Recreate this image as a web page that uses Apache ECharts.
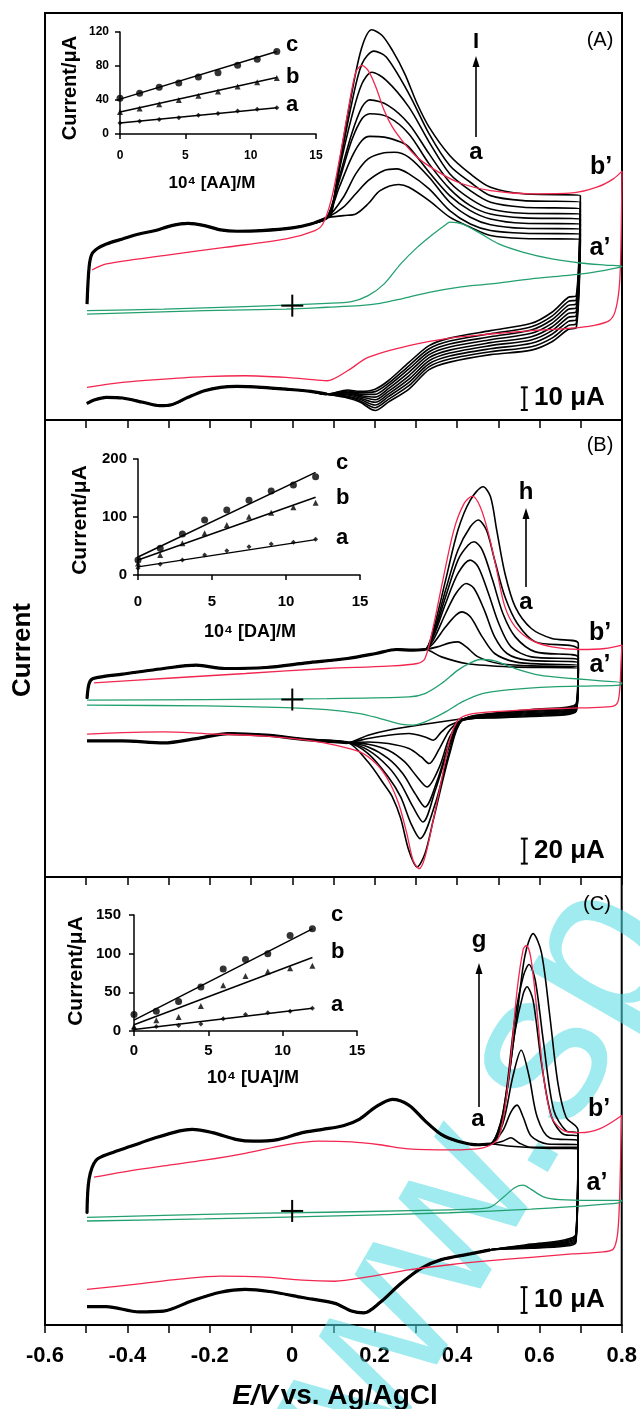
<!DOCTYPE html>
<html>
<head>
<meta charset="utf-8">
<script src="https://cdn.jsdelivr.net/npm/echarts@6/dist/echarts.min.js"></script>
<style>
  html, body { margin: 0; padding: 0; background: #fff; }
  #chart { width: 640px; height: 1409px; }
</style>
</head>
<body>
<div id="chart"></div>
<script>
// ---- panel A: ascorbic acid, curves a..i ([E/V, I/uA]) ----
const A_upShared = [[-0.498,0.7],[-0.493,17],[-0.486,22.8],[-0.471,25.4],[-0.451,27.2],[-0.412,29.4],[-0.372,31.6],[-0.332,33.1],[-0.293,35.3],[-0.253,36.3],[-0.213,35.3],[-0.174,33.4],[-0.134,32.8],[-0.074,33.1],[0,34.3],[0.045,36],[0.084,38.7]];
const A_upper = [
  [[0.124,39.7],[0.154,40.4],[0.184,44.9],[0.213,50.7],[0.258,53.4],[0.283,52.2],[0.332,46.3],[0.382,39],[0.432,34.6],[0.481,30.9],[0.561,29.6],[0.699,29.3]],
  [[0.124,43.4],[0.154,49.3],[0.184,55.1],[0.223,59.6],[0.253,60.3],[0.283,58.1],[0.332,51.5],[0.382,41.9],[0.432,36],[0.481,33.1],[0.561,31.9],[0.699,31.6]],
  [[0.124,47.8],[0.154,58.1],[0.184,64.7],[0.218,67.2],[0.248,67.6],[0.283,65.4],[0.332,56.6],[0.382,45.6],[0.432,39],[0.481,35.7],[0.561,34.1],[0.699,33.8]],
  [[0.114,52.2],[0.144,65.4],[0.169,72.8],[0.188,74.6],[0.223,74.3],[0.263,72.1],[0.283,69.9],[0.332,58.8],[0.382,48.5],[0.432,41.9],[0.481,38.2],[0.561,36.3],[0.699,36]],
  [[0.114,55.1],[0.144,72.8],[0.169,82.4],[0.188,84.6],[0.233,83.1],[0.283,75.7],[0.332,62.5],[0.382,51.5],[0.432,44.1],[0.481,40.4],[0.561,38.7],[0.699,38.2]],
  [[0.114,56.6],[0.144,75.7],[0.169,87.5],[0.188,90.7],[0.233,88.2],[0.283,80.1],[0.332,66.9],[0.382,54.4],[0.432,47.1],[0.481,42.6],[0.561,40.7],[0.699,40.4]],
  [[0.094,39.7],[0.114,59.6],[0.144,83.1],[0.169,97.8],[0.193,102.9],[0.228,99.3],[0.283,87.5],[0.332,72.1],[0.382,58.1],[0.432,50.7],[0.481,45.6],[0.561,43.4],[0.699,42.6]],
  [[0.094,40.4],[0.114,61],[0.144,89],[0.169,106.6],[0.198,112.2],[0.228,109.6],[0.283,93.4],[0.332,75.7],[0.382,61.8],[0.432,54.4],[0.481,48.5],[0.561,46.3],[0.699,45.6]],
  [[0.094,40.4],[0.114,62.5],[0.144,93.4],[0.169,114],[0.193,121.6],[0.218,119.1],[0.243,112.5],[0.273,102.2],[0.303,89],[0.332,78.7],[0.382,66.2],[0.432,58.1],[0.481,52.2],[0.561,49.3],[0.699,48.5]]
];
const A_lowV = [0.689,0.670,0.630,0.580,0.481,0.382,0.332,0.283,0.233,0.201,0.164,0.134];
const A_lowI = [
  [-9.7,-10.4,-15.9,-19.6,-21.6,-24.9,-28.2,-36.8,-42.5,-46.2,-42.5,-40.7],
  [-7.9,-8.7,-14.3,-18.1,-20.3,-23.5,-26.9,-35.3,-41.3,-45.0,-41.9,-40.3],
  [-6.2,-6.9,-12.6,-16.6,-19.0,-22.2,-25.6,-33.8,-40.1,-43.8,-41.3,-39.9],
  [-4.4,-5.1,-11.0,-15.1,-17.6,-20.9,-24.3,-32.4,-39.0,-42.6,-40.7,-39.4],
  [-2.6,-3.4,-9.4,-13.7,-16.3,-19.6,-22.9,-30.9,-37.8,-41.5,-40.1,-39.0],
  [-0.9,-1.6,-7.8,-12.2,-15.0,-18.2,-21.6,-29.4,-36.6,-40.3,-39.6,-38.5],
  [0.9,0.1,-6.2,-10.7,-13.7,-16.9,-20.3,-27.9,-35.4,-39.1,-39.0,-38.1],
  [2.6,1.9,-4.6,-9.3,-12.4,-15.6,-19.0,-26.5,-34.3,-37.9,-38.4,-37.6],
  [4.4,3.7,-2.9,-7.8,-11.0,-14.3,-17.6,-25.0,-33.1,-36.8,-37.8,-37.2]
];
const A_lowShared = [[0.084,-39],[0.045,-37.8],[-0.015,-36.8],[-0.074,-36],[-0.134,-35.6],[-0.174,-36],[-0.213,-37.5],[-0.253,-40.4],[-0.293,-43.7],[-0.322,-44.1],[-0.362,-42.6],[-0.412,-40.7],[-0.451,-40.4],[-0.481,-41.6],[-0.498,-43.1]];
const A_red = [[-0.486,15.7],[-0.451,18.4],[-0.312,22.1],[-0.164,25.7],[-0.015,29.4],[0.055,33.1],[0.074,36],[0.094,46.3],[0.114,64],[0.134,84.6],[0.154,102.9],[0.169,105.9],[0.184,103.7],[0.203,96.3],[0.223,86],[0.243,78.7],[0.273,71.3],[0.303,65.4],[0.342,60.3],[0.402,54.4],[0.481,50.7],[0.58,49.3],[0.68,49.7],[0.739,52.2],[0.779,55.9],[0.8,59.3],[0.798,31.6],[0.794,9.6],[0.784,-2.2],[0.769,-6.6],[0.729,-8.8],[0.68,-9.9],[0.58,-11],[0.481,-12.5],[0.382,-14.3],[0.283,-17.6],[0.184,-22.8],[0.134,-28.7],[0.084,-33.1],[0.035,-32.4],[-0.015,-31.6],[-0.114,-30.9],[-0.213,-31.3],[-0.312,-32.4],[-0.412,-33.8],[-0.498,-36]];
const A_green = [[-0.498,-2.2],[-0.312,-1.5],[-0.114,-0.4],[0.084,1],[0.144,1.8],[0.184,4.4],[0.223,9.6],[0.263,18.4],[0.303,25.7],[0.342,31.6],[0.372,35.7],[0.382,36.8],[0.412,36],[0.451,32.4],[0.501,27.2],[0.561,23.5],[0.63,20.6],[0.699,18.8],[0.759,17.9],[0.8,17.4],[0.794,16.9],[0.729,14.7],[0.66,13.2],[0.58,11.8],[0.481,9.6],[0.402,8.1],[0.332,5.9],[0.263,2.9],[0.213,1],[0.164,0],[0.084,-0.7],[-0.015,-1.5],[-0.213,-2.2],[-0.498,-3.7]];

// ---- panel B: dopamine, curves a..h ----
const B_upShared = [[-0.498,0.8],[-0.493,12.8],[-0.483,16.8],[-0.412,20.3],[-0.312,24.8],[-0.233,27.5],[-0.164,24.8],[-0.064,25.6],[0.035,29.3],[0.134,32.8],[0.203,36.8],[0.253,40],[0.293,39.5],[0.322,40]];
const B_upper = [
  [[0.362,34.1],[0.422,28.8],[0.531,26.1],[0.694,24.8]],
  [[0.352,42.1],[0.382,45.3],[0.402,46.1],[0.422,42.1],[0.451,34.1],[0.501,28.8],[0.58,26.9],[0.694,26.1]],
  [[0.342,44.8],[0.372,58.1],[0.397,67.5],[0.412,70.1],[0.432,66.1],[0.461,50.1],[0.491,36.8],[0.541,30.1],[0.61,28.3],[0.694,27.5]],
  [[0.342,47.5],[0.372,68.8],[0.397,84.8],[0.422,92.8],[0.441,88.8],[0.466,71.5],[0.491,50.1],[0.521,36.8],[0.57,31.5],[0.694,29.3]],
  [[0.342,50.1],[0.372,76.8],[0.402,100.8],[0.432,111.5],[0.451,106.1],[0.476,84.8],[0.501,60.8],[0.531,42.1],[0.58,34.1],[0.694,31.5]],
  [[0.342,51.5],[0.372,82.1],[0.402,111.5],[0.427,123.5],[0.441,126.1],[0.461,119.5],[0.486,95.5],[0.511,68.8],[0.541,50.1],[0.59,38.1],[0.694,33.6]],
  [[0.342,52.8],[0.372,87.5],[0.402,119.5],[0.432,138.1],[0.451,143.5],[0.471,135.5],[0.491,111.5],[0.516,82.1],[0.546,60.8],[0.59,46.1],[0.694,39.5]],
  [[0.342,55.5],[0.372,95.5],[0.402,135.5],[0.432,159.5],[0.463,170.1],[0.481,162.1],[0.496,135.5],[0.516,100.8],[0.541,74.1],[0.58,56.8],[0.63,48.8],[0.694,44.8]]
];
const B_lower = [
  [[0.689,-9.3],[0.58,-13.6],[0.481,-14.7],[0.422,-15.2],[0.332,-19.2],[0.233,-24.5],[0.184,-28.5]],
  [[0.689,-8.5],[0.58,-12.8],[0.481,-14.4],[0.422,-16],[0.382,-20.5],[0.362,-25.9],[0.342,-32.5],[0.322,-29.9],[0.283,-27.2],[0.233,-28.5],[0.184,-31.2]],
  [[0.689,-7.7],[0.58,-12],[0.481,-13.9],[0.412,-16.5],[0.382,-24.5],[0.357,-39.2],[0.332,-51.2],[0.313,-45.9],[0.283,-39.2],[0.233,-35.2],[0.184,-33.9]],
  [[0.689,-6.9],[0.58,-11.2],[0.481,-13.3],[0.412,-16.5],[0.382,-29.9],[0.357,-53.9],[0.327,-69.9],[0.303,-61.9],[0.273,-49.9],[0.233,-40.5],[0.184,-35.7]],
  [[0.689,-6.1],[0.58,-10.4],[0.481,-12.8],[0.412,-16.5],[0.382,-33.9],[0.352,-64.5],[0.322,-85.9],[0.298,-75.2],[0.268,-59.2],[0.233,-47.2],[0.184,-37.9]],
  [[0.689,-5.3],[0.58,-9.6],[0.481,-12.3],[0.412,-16.5],[0.382,-36.5],[0.347,-72.5],[0.317,-97.9],[0.293,-85.9],[0.263,-67.2],[0.233,-53.9],[0.184,-40.5]],
  [[0.689,-4.5],[0.58,-8.8],[0.481,-11.7],[0.412,-16.5],[0.382,-40.5],[0.347,-83.2],[0.31,-111.2],[0.288,-99.2],[0.263,-77.9],[0.233,-61.9],[0.184,-43.2]],
  [[0.689,-3.2],[0.58,-8],[0.481,-11.2],[0.412,-16.5],[0.382,-43.2],[0.342,-96.5],[0.322,-123.2],[0.303,-133.9],[0.283,-121],[0.263,-95],[0.243,-78],[0.223,-68],[0.184,-50]]
];
const B_lowShared = [[0.134,-34.4],[0.035,-32],[-0.064,-28.5],[-0.154,-27.2],[-0.233,-31.2],[-0.312,-34.7],[-0.412,-33.1],[-0.498,-33.1]];
const B_red = [[-0.481,13.3],[-0.312,16.8],[-0.114,20.8],[0.084,24.8],[0.233,26.7],[0.303,28.8],[0.322,32.8],[0.342,58.1],[0.362,90.1],[0.392,135.5],[0.417,156.8],[0.437,162.7],[0.456,154.1],[0.476,132.8],[0.496,103.5],[0.516,74.1],[0.541,58.1],[0.58,47.5],[0.63,42.1],[0.699,40],[0.759,40.8],[0.8,43.5],[0.798,31.5],[0.795,10.1],[0.79,-1.9],[0.779,-5.3],[0.729,-6.4],[0.68,-6.9],[0.58,-8],[0.481,-9.9],[0.432,-11.7],[0.402,-16.5],[0.382,-32.5],[0.362,-64.5],[0.342,-96.5],[0.322,-125.9],[0.308,-135.2],[0.293,-128.5],[0.278,-107.2],[0.258,-83.2],[0.233,-64.5],[0.203,-51.2],[0.164,-41.9],[0.104,-36.5],[0.035,-32.5],[-0.064,-29.3],[-0.213,-27.2],[-0.312,-25.9],[-0.412,-26.4],[-0.498,-27.7]];
const B_green = [[-0.498,-0.5],[-0.213,0],[0.084,0.8],[0.283,2.1],[0.322,4.8],[0.362,12.8],[0.402,23.5],[0.432,29.3],[0.456,32],[0.491,30.9],[0.541,24.8],[0.6,19.5],[0.68,16.8],[0.749,14.9],[0.8,13.3],[0.794,11.5],[0.729,10.9],[0.63,10.1],[0.531,8],[0.461,4.8],[0.412,-1.9],[0.372,-9.9],[0.332,-16.5],[0.293,-20.5],[0.263,-19.7],[0.213,-15.2],[0.164,-11.2],[0.084,-8],[-0.015,-6.4],[-0.213,-5.1],[-0.498,-4.5]];

// ---- panel C: uric acid, curves a..g ----
const C_upShared = [[-0.498,-0.9],[-0.493,12.4],[-0.476,19.7],[-0.441,22.4],[-0.392,25.1],[-0.332,28.4],[-0.273,31.1],[-0.243,31.7],[-0.193,30.4],[-0.134,27.7],[-0.094,27.1],[-0.035,27.7],[0.025,30.4],[0.074,31.7],[0.124,33.1],[0.164,35.7],[0.203,40.4],[0.243,43.3],[0.283,41.1],[0.322,35.1],[0.362,29.7],[0.402,27.1],[0.451,25.7],[0.481,26]];
const C_upper = [
  [[0.531,25.1],[0.61,24.4],[0.694,24.1]],
  [[0.511,27.1],[0.531,28.4],[0.551,26.4],[0.58,24.7],[0.694,24.7]],
  [[0.511,31.1],[0.531,38.4],[0.546,41.1],[0.561,36.4],[0.58,29.1],[0.62,26],[0.694,25.7]],
  [[0.511,33.7],[0.536,52.4],[0.556,62.4],[0.575,52.4],[0.595,36.4],[0.625,28.4],[0.694,27.1]],
  [[0.511,36.4],[0.541,69.7],[0.561,84.4],[0.57,87.1],[0.585,81.7],[0.605,57.7],[0.63,36.4],[0.66,29.7],[0.694,29.1]],
  [[0.511,37.1],[0.541,75.1],[0.561,91.1],[0.575,95.7],[0.59,89.7],[0.61,65.7],[0.635,39.1],[0.665,31.1],[0.694,30]],
  [[0.511,37.7],[0.546,76.4],[0.565,99.1],[0.585,107.7],[0.605,100.4],[0.625,76.4],[0.645,49.7],[0.665,36.4],[0.694,31.3]]
];
const C_lowV = [0.689,0.66,0.58];
const C_lowI = [[-12.1,-13.7,-14.5],[-11.6,-13.3,-14.3],[-11.1,-12.9,-14],[-10.5,-12.5,-13.7],[-10,-12.1,-13.5],[-9.5,-11.7,-13.2],[-9,-11.3,-12.9]];
const C_lowShared = [[0.481,-15.1],[0.432,-16.7],[0.362,-18.9],[0.313,-22.3],[0.263,-28.3],[0.213,-35.6],[0.174,-39.6],[0.144,-38.9],[0.104,-35.9],[0.025,-33.6],[-0.055,-31.3],[-0.114,-30.5],[-0.174,-31.6],[-0.243,-34.9],[-0.312,-38.9],[-0.372,-39.2],[-0.451,-37.2],[-0.498,-37.2]];
const C_red = [[-0.481,13.1],[-0.412,15.1],[-0.312,17.5],[-0.213,19.7],[-0.114,22.4],[-0.015,25.7],[0.064,27.1],[0.144,26.8],[0.213,25.7],[0.283,24.1],[0.382,23.7],[0.461,24.4],[0.501,28.4],[0.526,52.4],[0.546,85.7],[0.561,101.7],[0.569,103.1],[0.58,97.7],[0.595,76.4],[0.61,52.4],[0.63,36.4],[0.66,31.1],[0.699,30.4],[0.749,32.1],[0.8,37.1],[0.798,25.7],[0.795,5.7],[0.79,-8.9],[0.779,-14.9],[0.749,-16],[0.68,-16.7],[0.58,-18],[0.481,-19.3],[0.382,-20.9],[0.283,-22.9],[0.184,-25.6],[0.104,-27.3],[0.025,-26.9],[-0.074,-25.6],[-0.174,-25.3],[-0.273,-26.5],[-0.372,-28.3],[-0.498,-30.5]];
const C_green = [[-0.498,-2.5],[-0.213,-1.3],[0.084,-0.5],[0.283,0.1],[0.432,0.7],[0.481,1.5],[0.511,5.1],[0.541,9.1],[0.561,10],[0.58,8.4],[0.61,5.5],[0.65,4.4],[0.729,4.1],[0.8,4.1],[0.794,3.1],[0.68,1.7],[0.58,0.7],[0.382,-0.7],[0.084,-2],[-0.213,-3.1],[-0.498,-3.9]];

// ---- insets: peak current vs concentration (10^4 M) ----
const concX = [0, 1.5, 3, 4.5, 6, 7.5, 9, 10.5, 12];
const AA_a = [13, 15, 17, 19, 22, 24, 27, 29, 31];
const AA_b = [26, 30, 35, 40, 45, 50, 56, 61, 66];
const AA_c = [42, 48, 55, 60, 67, 72, 81, 88, 97];
const AA_fit = [[13, 31], [26, 66.5], [41, 97]];
const DA_a = [11.5, 18.4, 25.9, 34.5, 42, 48.9, 53.4, 56.3, 61.5];
const DA_b = [20, 34.5, 54.6, 71.8, 86, 100.6, 107.5, 116.7, 124.7];
const DA_c = [25.9, 46, 70.7, 94.8, 112, 129, 145, 155, 169.5];
const DA_fit = [[14, 61], [26, 134], [31, 177]];
const UA_a = [2.7, 5.8, 7.1, 8.9, 16, 21.3, 23.5, 25.7, 29.3];
const UA_b = [5.8, 13.8, 18.2, 32.4, 59, 71, 76.8, 81.2, 84.3];
const UA_c = [21.3, 25.7, 38.2, 56.8, 80.3, 92.3, 99.9, 123.4, 132.3];
const UA_fit = [[2, 29.5], [8, 95], [14, 132]];

// scale bars [E, I top, I bottom]
const scaleA = [0.563, -36, -46];
const scaleB = [0.563, -111.2, -131.2];
const scaleC = [0.563, -29.6, -39.6];

const FONT = '"Liberation Sans", Arial, sans-serif';
const RED = '#f2264f';
const GREEN = '#23a070';

const chart = echarts.init(document.getElementById('chart'));

function mainX(gi, labels) {
  return {
    type: 'value', gridIndex: gi, min: -0.6, max: 0.8, interval: 0.1, position: 'bottom',
    axisLine: { show: true, onZero: false, lineStyle: { color: '#000', width: 2 } },
    axisTick: { show: true, inside: false, length: 8, lineStyle: { color: '#000', width: 1.5 } },
    splitLine: { show: false },
    axisLabel: {
      show: labels, margin: 20, color: '#000', fontSize: 22, fontWeight: 'bold', fontFamily: FONT,
      showMinLabel: true, showMaxLabel: true,
      formatter: v => {
        const k = Math.round(v * 10);
        if (k % 2 !== 0) return '';
        return k === 0 ? '0' : (k / 10).toFixed(1);
      }
    }
  };
}
function mainY(gi, min, max) {
  return { type: 'value', gridIndex: gi, min, max, show: false };
}
function insetX(gi, fs, margin) {
  return {
    type: 'value', gridIndex: gi, min: 0, max: 15, interval: 5,
    axisLine: { onZero: false, lineStyle: { color: '#000', width: 1.5 } },
    axisTick: { inside: false, length: 5, lineStyle: { color: '#000', width: 1.5 } },
    splitLine: { show: false },
    axisLabel: { color: '#000', fontSize: fs, fontWeight: 'bold', fontFamily: FONT, margin }
  };
}
function insetY(gi, max, interval, fs, margin) {
  return {
    type: 'value', gridIndex: gi, min: 0, max, interval,
    axisLine: { show: true, onZero: false, lineStyle: { color: '#000', width: 1.5 } },
    axisTick: { show: true, inside: false, length: 5, lineStyle: { color: '#000', width: 1.5 } },
    splitLine: { show: false },
    axisLabel: { color: '#000', fontSize: fs, fontWeight: 'bold', fontFamily: FONT, margin }
  };
}

const series = [];
function line(ai, data, color, width, smooth) {
  series.push({
    type: 'line', xAxisIndex: ai, yAxisIndex: ai, data, symbol: 'none', showSymbol: false,
    smooth: smooth === undefined ? 0.3 : smooth, lineStyle: { color, width }, silent: true, z: 2
  });
}
function cv(ai, upShared, upper, lower, lowShared, red, green) {
  upper.forEach((u, k) => line(ai, upShared.concat(u, lower[k], lowShared), '#000', 1.6));
  line(ai, upShared, '#000', 3.2);
  line(ai, lowShared, '#000', 3.2);
  line(ai, red, RED, 1.3);
  line(ai, green, GREEN, 1.3);
  // reference cross at E = 0, I = 0
  series.push({
    type: 'custom', xAxisIndex: ai, yAxisIndex: ai, data: [[0, 0]], silent: true, z: 5,
    renderItem: (p, api) => {
      const c = api.coord([api.value(0), api.value(1)]);
      return { type: 'group', children: [
        { type: 'line', shape: { x1: c[0] - 11, y1: c[1], x2: c[0] + 11, y2: c[1] }, style: { stroke: '#000', lineWidth: 2 } },
        { type: 'line', shape: { x1: c[0], y1: c[1] - 11, x2: c[0], y2: c[1] + 11 }, style: { stroke: '#000', lineWidth: 2 } }
      ] };
    }
  });
}
function scaleBar(ai, bar) {
  series.push({
    type: 'custom', xAxisIndex: ai, yAxisIndex: ai, data: [bar], encode: { x: 0, y: 1 }, silent: true, z: 5,
    renderItem: (p, api) => {
      const a = api.coord([api.value(0), api.value(1)]);
      const b = api.coord([api.value(0), api.value(2)]);
      const s = { stroke: '#000', lineWidth: 2 };
      return { type: 'group', children: [
        { type: 'line', shape: { x1: a[0], y1: a[1], x2: b[0], y2: b[1] }, style: s },
        { type: 'line', shape: { x1: a[0] - 3.5, y1: a[1], x2: a[0] + 3.5, y2: a[1] }, style: s },
        { type: 'line', shape: { x1: b[0] - 3.5, y1: b[1], x2: b[0] + 3.5, y2: b[1] }, style: s }
      ] };
    }
  });
}
function inset(ai, a, b, c, fit) {
  const pts = arr => concX.map((x, i) => [x, arr[i]]);
  [a, b, c].forEach((arr, k) => {
    series.push({
      type: 'scatter', xAxisIndex: ai, yAxisIndex: ai, data: pts(arr), silent: true, z: 4,
      symbol: ['diamond', 'triangle', 'circle'][k], symbolSize: [5, 6, 7][k],
      itemStyle: { color: '#000' }
    });
    line(ai, [[0, fit[k][0]], [12, fit[k][1]]], '#000', 1.5, false);
  });
}

cv(0, A_upShared, A_upper, A_upper.map((u, k) => A_lowV.map((v, i) => [v, A_lowI[k][i]])), A_lowShared, A_red, A_green);
cv(1, B_upShared, B_upper, B_lower, B_lowShared, B_red, B_green);
cv(2, C_upShared, C_upper, C_upper.map((u, k) => C_lowV.map((v, i) => [v, C_lowI[k][i]])), C_lowShared, C_red, C_green);
scaleBar(0, scaleA);
scaleBar(1, scaleB);
scaleBar(2, scaleC);
inset(3, AA_a, AA_b, AA_c, AA_fit);
inset(4, DA_a, DA_b, DA_c, DA_fit);
inset(5, UA_a, UA_b, UA_c, UA_fit);

const graphics = [];
function T(x, y, text, size, o) {
  o = o || {};
  const align = o.align || 'center';
  graphics.push({
    type: 'text', x, y, rotation: o.rot || 0, z: 100,
    style: {
      text, fill: '#000', font: (o.weight || 'bold') + ' ' + size + 'px ' + FONT,
      textAlign: align, align, textVerticalAlign: 'middle', verticalAlign: 'middle'
    }
  });
}
function arrow(x, yBottom, yTip) {
  graphics.push({ type: 'line', z: 100, shape: { x1: x, y1: yBottom, x2: x, y2: yTip + 8 }, style: { stroke: '#000', lineWidth: 1.6 } });
  graphics.push({ type: 'polygon', z: 100, shape: { points: [[x, yTip], [x - 3.5, yTip + 11], [x + 3.5, yTip + 11]] }, style: { fill: '#000' } });
}

// watermark
graphics.push({
  type: 'text', x: 632, y: 905, rotation: Math.PI / 3, z: 1,
  style: { text: 'www.sp', fill: 'rgba(80, 218, 226, 0.55)', font: '220px ' + FONT,
           textAlign: 'right', align: 'right', textVerticalAlign: 'middle', verticalAlign: 'middle' }
});

// panel A
T(600, 40, '(A)', 20, { weight: 'normal' });
T(476, 42, 'I', 22);
arrow(476, 137, 56);
T(476, 152, 'a', 24);
T(601, 167, 'b’', 25);
T(600, 248, 'a’', 25);
T(534, 398, '10 μA', 26, { align: 'left' });
T(70, 88, 'Current/μA', 20, { rot: Math.PI / 2 });
T(212, 183, '10⁴ [AA]/M', 17);
T(286, 45, 'c', 22, { align: 'left' });
T(286, 77, 'b', 22, { align: 'left' });
T(286, 105, 'a', 22, { align: 'left' });

// panel B
T(600, 445, '(B)', 20, { weight: 'normal' });
T(526, 492, 'h', 24);
arrow(526, 587, 508);
T(526, 602, 'a', 24);
T(600, 633, 'b’', 25);
T(600, 665, 'a’', 25);
T(534, 851, '20 μA', 26, { align: 'left' });
T(80, 520, 'Current/μA', 21, { rot: Math.PI / 2 });
T(250, 632, '10⁴ [DA]/M', 18);
T(336, 463, 'c', 22, { align: 'left' });
T(336, 498, 'b', 22, { align: 'left' });
T(336, 538, 'a', 22, { align: 'left' });

// panel C
T(597, 904, '(C)', 20, { weight: 'normal' });
T(479, 940, 'g', 24);
arrow(479, 1107, 963);
T(478, 1119, 'a', 24);
T(599, 1109, 'b’', 25);
T(597, 1183, 'a’', 25);
T(534, 1300, '10 μA', 26, { align: 'left' });
T(76, 971, 'Current/μA', 21, { rot: Math.PI / 2 });
T(253, 1078, '10⁴ [UA]/M', 18);
T(331, 915, 'c', 22, { align: 'left' });
T(331, 952, 'b', 22, { align: 'left' });
T(331, 1005, 'a', 22, { align: 'left' });

// shared axis titles
T(23, 650, 'Current', 26, { rot: Math.PI / 2 });
graphics.push({
  type: 'text', x: 335, y: 1396, z: 100,
  style: {
    text: '{i|E/V} {n|vs. Ag/AgCl}', textAlign: 'center', align: 'center', textVerticalAlign: 'middle', verticalAlign: 'middle',
    rich: {
      i: { fontSize: 28, fontWeight: 'bold', fontStyle: 'italic', fontFamily: FONT, fill: '#000', color: '#000' },
      n: { fontSize: 28, fontWeight: 'bold', fontFamily: FONT, fill: '#000', color: '#000' }
    }
  }
});

const option = {
  animation: false,
  backgroundColor: '#fff',
  grid: [
    { left: 45, top: 13, width: 577, height: 407, show: true, borderColor: '#000', borderWidth: 2 },
    { left: 45, top: 420, width: 577, height: 457, show: true, borderColor: '#000', borderWidth: 2 },
    { left: 45, top: 877, width: 577, height: 448, show: true, borderColor: '#000', borderWidth: 2 },
    { left: 120, top: 32, width: 196, height: 102 },
    { left: 138, top: 459, width: 222, height: 116 },
    { left: 134, top: 915, width: 223, height: 116 }
  ],
  xAxis: [
    mainX(0, false), mainX(1, false), mainX(2, true),
    insetX(3, 12, 16), insetX(4, 15, 19), insetX(5, 15, 12)
  ],
  yAxis: [
    mainY(0, -50.4, 129), mainY(1, -141.9, 223.5), mainY(2, -44.3, 129.7),
    insetY(3, 120, 40, 12, 11), insetY(4, 200, 100, 15, 11), insetY(5, 150, 50, 15, 13)
  ],
  graphic: { elements: graphics },
  series
};
chart.setOption(option);
</script>
</body>
</html>
